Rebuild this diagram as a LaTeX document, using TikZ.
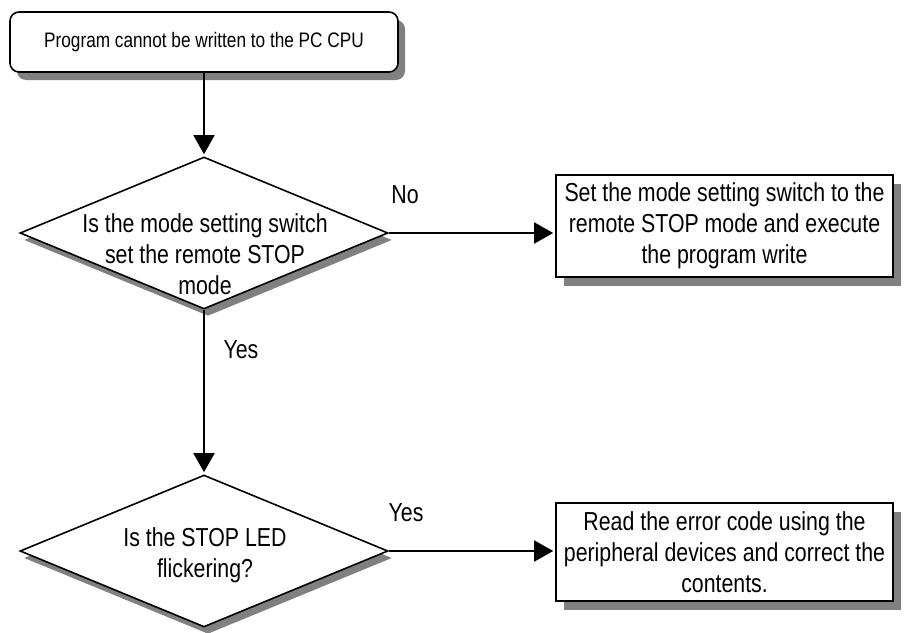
\documentclass[tikz,border=0pt]{standalone}
\usepackage{fontspec}
\setmainfont{Liberation Sans}[FakeStretch=0.82]
\usetikzlibrary{shapes.geometric,arrows.meta,shadows}
\definecolor{shadowgray}{RGB}{128,128,128}
\begin{document}
\begin{tikzpicture}[x=1pt,y=-1pt,
  line width=1.6pt,
  txt/.style={font=\fontsize{26}{31}\selectfont, align=center, inner sep=0pt},
  lbl/.style={font=\fontsize{26}{31}\selectfont, inner sep=0pt},
  startbox/.style={draw, fill=white, rectangle, rounded corners=9pt,
    minimum width=388pt, minimum height=60pt, inner sep=0pt,
    font=\fontsize{21}{25}\selectfont,
    general shadow={shadow xshift=7pt, shadow yshift=-8pt, fill=shadowgray}},
  actbox/.style={draw, fill=white, rectangle, minimum width=337pt, inner sep=0pt,
    align=center, font=\fontsize{26}{31}\selectfont,
    general shadow={shadow xshift=8pt, shadow yshift=-9pt, fill=shadowgray}},
  decision/.style={draw, fill=white, diamond, inner sep=0pt,
    minimum width=368pt, minimum height=152pt,
    general shadow={shadow xshift=4pt, shadow yshift=-7pt, fill=shadowgray}},
  flow/.style={-{Triangle[length=19pt,width=21pt]}, shorten >=2pt}
]
\useasboundingbox (0,0) rectangle (912,632);

\node[startbox] (start) at (204,42) {Program cannot be written to the PC CPU};

\node[decision] (d1) at (204,233) {};
\node[txt] (d1t) at (205,254) {Is the mode setting switch\\set the remote STOP\\mode};

\node[actbox, minimum height=102pt] (a1) at (724.5,226)
  {Set the mode setting switch to the\\remote STOP mode and execute\\the program write};

\node[decision] (d2) at (204,551) {};
\node[txt] (d2t) at (205,555) {Is the STOP LED\\flickering?};

\node[actbox, minimum height=98pt] (a2) at (724.5,552)
  {Read the error code using the\\peripheral devices and correct the\\contents.};

\draw[flow] (start.south) -- (d1.north);
\draw[flow] (d1.east) -- (d1.east -| a1.west);
\draw[flow] (d1.south) -- (d2.north);
\draw[flow] (d2.east) -- (d2.east -| a2.west);

\node[lbl] (no1) at (405,195) {No};
\node[lbl] (yes1) at (241,350) {Yes};
\node[lbl] (yes2) at (406,513) {Yes};
\end{tikzpicture}
\end{document}
